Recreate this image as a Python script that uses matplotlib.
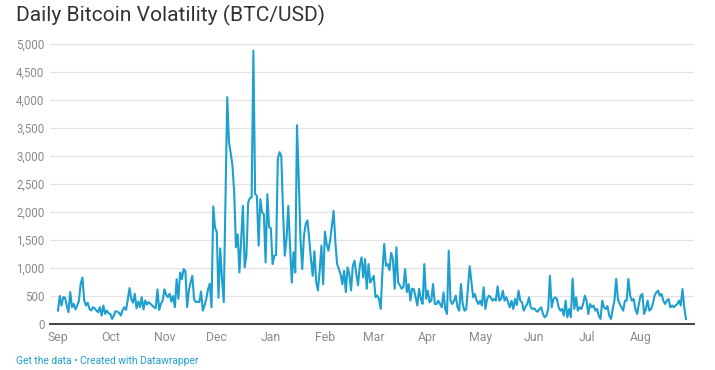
import pandas as pd
import matplotlib.pyplot as plt
from matplotlib.ticker import FuncFormatter

plt.rcParams['font.family'] = ['Roboto', 'DejaVu Sans']

# daily volatility values (USD), one list per month
sep = [240, 500, 330, 480, 470, 330, 210, 570, 300, 360, 260, 330, 420, 720, 830,
       420, 330, 380, 270, 240, 300, 280, 240, 210, 300, 150, 330, 180, 240, 190]
oct_ = [180, 90, 150, 230, 220, 200, 150, 250, 300, 250, 440, 640, 450, 380, 540, 280,
        400, 300, 480, 260, 420, 350, 390, 360, 330, 300, 280, 620, 250, 360, 420]
nov = [620, 520, 480, 540, 400, 500, 300, 800, 450, 920, 800, 980, 950, 300, 600,
       740, 860, 440, 390, 400, 390, 580, 240, 330, 450, 620, 720, 300, 2100, 1720]
dec = [1650, 470, 1350, 800, 390, 2200, 4050, 3250, 3050, 2830, 2350, 1370, 1600, 920,
       1500, 2110, 1010, 1220, 2170, 2250, 2260, 4880, 2320, 2290, 1400, 2230, 1990,
       1960, 1100, 2320, 1730]
jan = [1710, 1070, 1220, 1230, 2950, 3070, 3000, 2000, 1220, 1520, 2110, 1400, 740,
       1280, 920, 3550, 2590, 1520, 980, 1580, 1790, 1850, 1520, 1160, 860, 1300, 750,
       600, 950, 1400, 710]
feb = [1650, 1430, 1310, 1490, 1760, 2020, 1460, 1070, 980, 890, 710, 950, 570, 1010,
       890, 600, 1040, 1130, 890, 690, 1040, 1190, 830, 1160, 630, 1070, 740, 800]
mar = [860, 480, 510, 450, 270, 950, 1430, 1040, 1070, 960, 1270, 1160, 630, 1370, 740,
       690, 630, 660, 980, 570, 710, 420, 630, 620, 480, 330, 630, 450, 360, 1070, 450]
apr = [595, 387, 420, 714, 357, 357, 417, 357, 298, 565, 268, 179, 1310, 417, 357, 417,
       506, 298, 238, 714, 357, 238, 260, 655, 1030, 744, 476, 536, 417, 357]
may = [417, 330, 655, 268, 446, 506, 480, 417, 446, 417, 673, 417, 446, 595, 417, 480,
       387, 298, 417, 268, 446, 340, 595, 417, 387, 238, 310, 357, 476, 298, 268]
jun = [280, 238, 220, 268, 298, 179, 119, 150, 268, 863, 298, 446, 476, 446, 298, 238,
       268, 150, 417, 119, 268, 120, 810, 270, 476, 238, 300, 268, 357, 506]
jul = [417, 179, 357, 300, 330, 238, 270, 149, 89, 417, 300, 268, 320, 149, 89, 268,
       417, 804, 446, 357, 300, 238, 417, 417, 804, 506, 417, 446, 268, 179, 357]
aug = [506, 536, 179, 268, 417, 238, 268, 357, 506, 565, 595, 506, 536, 417, 357, 417,
       446, 298, 330, 298, 330, 357, 417, 330, 625, 298, 89]

month_labels = ['Sep', 'Oct', 'Nov', 'Dec', 'Jan', 'Feb', 'Mar', 'Apr', 'May', 'Jun', 'Jul', 'Aug']

values = sep + oct_ + nov + dec + jan + feb + mar + apr + may + jun + jul + aug
dates = pd.date_range('2017-09-01', periods=len(values), freq='D')
days = (dates - dates[0]).days
month_starts = pd.date_range('2017-09-01', '2018-08-01', freq='MS')
tick_pos = (month_starts - dates[0]).days

fig = plt.figure(figsize=(7.15, 3.7), dpi=100)
ax = fig.add_axes([50 / 715, 1 - 324 / 370, 644 / 715, 280 / 370])

ax.plot(days, values, color='#1d9fd0', lw=1.5, solid_joinstyle='round')

ax.set_xlim(-4.6, 364.6)
ax.set_ylim(0, 5000)
ax.set_yticks(range(0, 5001, 500))
ax.yaxis.set_major_formatter(FuncFormatter(lambda v, p: f'{int(v):,}'))
ax.set_xticks(tick_pos)
ax.set_xticklabels(month_labels)

ax.grid(axis='y', color='#e3e3e3', lw=0.9)
ax.set_axisbelow(True)
for s in ['top', 'right', 'left']:
    ax.spines[s].set_visible(False)
ax.spines['bottom'].set_color('#333333')
ax.spines['bottom'].set_linewidth(1.3)
ax.tick_params(axis='both', length=0, labelsize=8.3, labelcolor='#8a8a8a')
ax.tick_params(axis='y', pad=4)
ax.tick_params(axis='x', pad=5)
for lab in ax.get_xticklabels():
    lab.set_fontsize(8.8)

fig.text(16 / 715, 1 - 15 / 370, 'Daily Bitcoin Volatility (BTC/USD)',
         fontsize=15.1, color='#333333', va='center', ha='left')
fig.text(16 / 715, 1 - 361 / 370, 'Get the data \u2022 Created with Datawrapper',
         fontsize=7.4, color='#1d9fd0', va='center', ha='left')

fig.savefig('out.png', dpi=100)
